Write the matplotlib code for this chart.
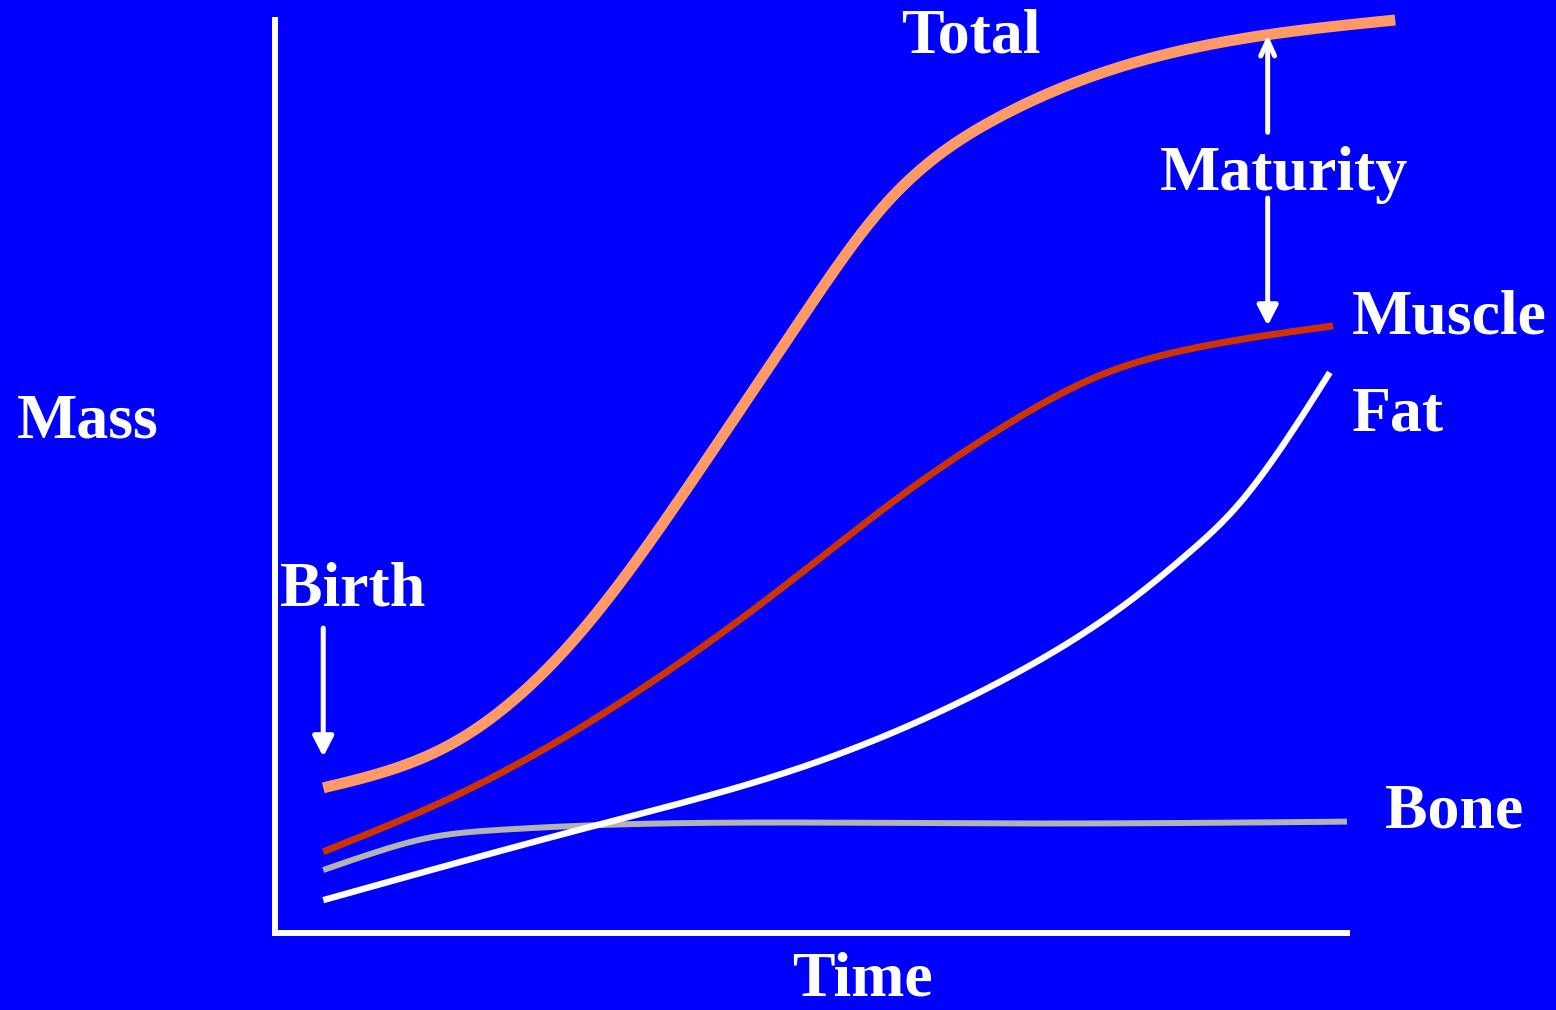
import numpy as np
import matplotlib
matplotlib.use("Agg")
import matplotlib.pyplot as plt

# Growth curves: mass of each tissue against time (arbitrary units, 0-100)
total_t = [4.5, 16.6, 28.7, 39.6, 49.0, 56.7, 67.6, 81.6, 104.5]
total_m = [15.9, 20.8, 33.2, 50.7, 67.1, 79.5, 89.4, 95.8, 100.0]

muscle_t = [4.5, 17.3, 30.3, 47.4, 58.3, 67.6, 77.0, 86.3, 98.7]
muscle_m = [8.9, 15.3, 23.8, 37.9, 47.8, 55.2, 61.1, 64.2, 66.5]

fat_t = [4.5, 30.3, 49.0, 67.6, 80.0, 85.4, 89.4, 98.4]
fat_m = [3.6, 11.9, 18.1, 27.5, 36.6, 41.8, 46.3, 61.4]

bone_t = [4.5, 9.8, 14.2, 21.0, 29.7, 45.2, 67.6, 100.0]
bone_m = [6.9, 9.0, 10.4, 11.3, 11.8, 12.1, 12.0, 12.2]

BG = "#0000FF"


def spline(xs, ys, n=400):
    # natural cubic spline through the points, for a smooth stroke
    x = np.asarray(xs, float)
    y = np.asarray(ys, float)
    k = len(x)
    h = np.diff(x)
    A = np.zeros((k, k))
    b = np.zeros(k)
    A[0, 0] = A[-1, -1] = 1
    for i in range(1, k - 1):
        A[i, i - 1] = h[i - 1]
        A[i, i] = 2 * (h[i - 1] + h[i])
        A[i, i + 1] = h[i]
        b[i] = 6 * ((y[i + 1] - y[i]) / h[i] - (y[i] - y[i - 1]) / h[i - 1])
    M = np.linalg.solve(A, b)
    xx = np.linspace(x[0], x[-1], n)
    j = np.clip(np.searchsorted(x, xx) - 1, 0, k - 2)
    a = x[j + 1] - xx
    c = xx - x[j]
    hj = h[j]
    yy = (M[j] * a ** 3 / (6 * hj) + M[j + 1] * c ** 3 / (6 * hj)
          + (y[j] / hj - M[j] * hj / 6) * a + (y[j + 1] / hj - M[j + 1] * hj / 6) * c)
    return xx, yy


plt.rcParams["font.family"] = ["Liberation Serif", "DejaVu Serif"]
plt.rcParams["font.weight"] = "bold"

fig = plt.figure(figsize=(15.56, 10.10), dpi=100, facecolor=BG)
ax = fig.add_axes([275 / 1556, 77 / 1010, 1072 / 1556, 913 / 1010])
ax.set_facecolor(BG)
ax.set_xlim(0, 100)
ax.set_ylim(0, 100)
ax.set_xticks([])
ax.set_yticks([])
for side in ["top", "right"]:
    ax.spines[side].set_visible(False)
for side in ["left", "bottom"]:
    ax.spines[side].set_color("white")
    ax.spines[side].set_linewidth(4.3)

curves = [
    (bone_t, bone_m, "#B3B3B3", 4.3),
    (fat_t, fat_m, "white", 4.6),
    (muscle_t, muscle_m, "#CC3300", 5.0),
    (total_t, total_m, "#FF9966", 7.9),
]
for t, m, c, lw in curves:
    x, y = spline(t, m)
    ax.plot(x, y, color=c, lw=lw, solid_capstyle="butt", clip_on=False)

txt = dict(color="white", fontsize=46, fontweight="bold", va="baseline", clip_on=False)
ax.text(64.9, 96.4, "Total", ha="center", **txt)
ax.text(94.1, 81.4, "Maturity", ha="center", **txt)
ax.text(100.5, 65.7, "Muscle", ha="left", **txt)
ax.text(100.5, 55.0, "Fat", ha="left", **txt)
ax.text(103.5, 11.6, "Bone", ha="left", **txt)
ax.text(-24.1, 54.3, "Mass", ha="left", **txt)
ax.text(0.5, 35.9, "Birth", ha="left", **txt)
ax.text(54.8, -6.9, "Time", ha="center", **txt)

arrow = dict(arrowstyle="-|>,head_length=1.2,head_width=0.62", color="white", lw=3.6,
             shrinkA=0, shrinkB=0)
ax.annotate("", xy=(4.5, 19.3), xytext=(4.5, 33.4), arrowprops=arrow, annotation_clip=False)
ax.annotate("", xy=(92.6, 66.5), xytext=(92.6, 80.5), arrowprops=arrow, annotation_clip=False)
ax.annotate("", xy=(92.6, 98.4), xytext=(92.6, 87.7),
            arrowprops=dict(arrowstyle="->,head_length=1.1,head_width=0.5", color="white",
                            lw=3.6, shrinkA=0, shrinkB=0),
            annotation_clip=False)

fig.savefig("out.png", dpi=100, facecolor=BG)
